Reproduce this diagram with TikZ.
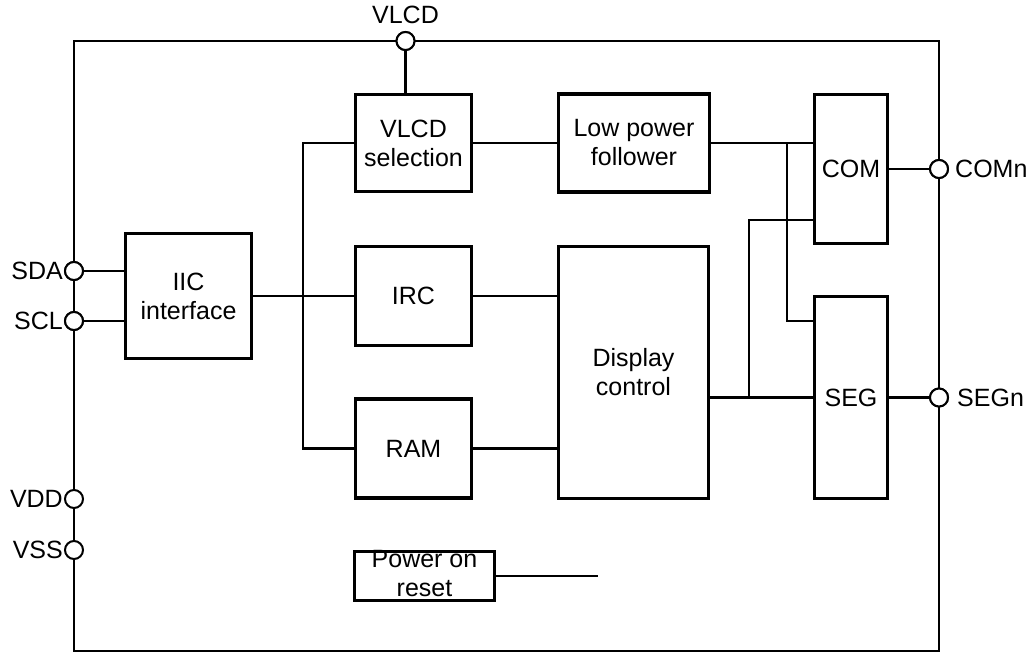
\documentclass[tikz,border=0pt]{standalone}
\usepackage{fontspec}
\setmainfont{Liberation Sans}
\begin{document}
\begin{tikzpicture}[x=1pt,y=-1pt,
  every node/.style={font=\fontsize{25}{29}\selectfont},
  blk/.style={draw,line width=3.8pt,inner sep=0pt,outer sep=0pt,align=center},
  wire/.style={line width=2.2pt},
  pin/.style={circle,draw,line width=2pt,fill=white,minimum size=18pt,inner sep=0pt,outer sep=0pt},
  lbl/.style={inner sep=0pt}]
\useasboundingbox (0,0) rectangle (1032,652);
% outer frame
\draw[wire] (74,41) rectangle (939,651);
% blocks
\node[blk,minimum width=116pt,minimum height=97pt] (vsel) at (413.5,143) {VLCD\\selection};
\node[blk,minimum width=151pt,minimum height=98pt] (lpf) at (634,143) {Low power\\follower};
\node[blk,minimum width=73pt,minimum height=149pt] (com) at (851,169) {COM};
\node[blk,minimum width=73pt,minimum height=202pt] (seg) at (851,397.5) {SEG};
\node[blk,minimum width=150pt,minimum height=252pt] (dc) at (633.5,372.5) {Display\\control};
\node[blk,minimum width=116pt,minimum height=99pt] (irc) at (413.5,296) {IRC};
\node[blk,minimum width=116pt,minimum height=99pt] (ram) at (413.5,448.5) {RAM};
\node[blk,minimum width=126pt,minimum height=125pt] (iic) at (188.5,296) {IIC\\interface};
\node[lbl,align=center] (portxt) at (424.5,574) {Power on\\reset};
\node[blk,minimum width=140pt,minimum height=49pt] (por) at (424.5,576) {};
% pins
\node[pin] (pvlcd) at (405.5,41) {};
\node[pin] (psda) at (74,271) {};
\node[pin] (pscl) at (74,321) {};
\node[pin] (pvdd) at (74,499) {};
\node[pin] (pvss) at (74,550) {};
\node[pin] (pcom) at (939,169) {};
\node[pin] (pseg) at (939,397.5) {};
% pin labels
\node[lbl] (tvlcd) at (405.5,15) {VLCD};
\node[lbl,anchor=east] (tsda) at (63,271) {SDA};
\node[lbl,anchor=east] (tscl) at (63,321) {SCL};
\node[lbl,anchor=east] (tvdd) at (63,499) {VDD};
\node[lbl,anchor=east] (tvss) at (63,550) {VSS};
\node[lbl,anchor=west] (tcom) at (955,169) {COMn};
\node[lbl,anchor=west] (tseg) at (957,397.5) {SEGn};
% helper coordinates
\coordinate (bx) at (303,0);
\coordinate (b1) at (787,0);
\coordinate (b2) at (749,0);
\coordinate (cy) at (0,220);
\coordinate (sy) at (0,321);
\coordinate (porend) at (598,576);
% connectors
\draw[wire] (pvlcd) -- (pvlcd |- vsel.north);
\draw[wire] (psda) -- (psda -| iic.west);
\draw[wire] (pscl) -- (pscl -| iic.west);
\draw[wire] (iic.east) -- (irc.west);
\draw[wire] (vsel.west) -- (vsel.west -| bx) -- (ram.west -| bx) -- (ram.west);
\draw[wire] (vsel.east) -- (lpf.west);
\draw[wire] (lpf.east) -- (lpf.east -| com.west);
\draw[wire] (lpf.east -| b1) -- (b1 |- sy) -- (sy -| seg.west);
\draw[wire] (irc.east) -- (irc.east -| dc.west);
\draw[wire] (ram.east) -- (ram.east -| dc.west);
\draw[wire] (seg.west -| dc.east) -- (seg.west);
\draw[wire] (seg.west -| b2) -- (b2 |- cy) -- (cy -| com.west);
\draw[wire] (com.east) -- (pcom);
\draw[wire] (seg.east) -- (pseg);
\draw[wire] (por.east) -- (porend);
% redraw pins on top
\node[pin] at (pvlcd) {};
\node[pin] at (psda) {};
\node[pin] at (pscl) {};
\node[pin] at (pcom) {};
\node[pin] at (pseg) {};
\end{tikzpicture}
\end{document}
